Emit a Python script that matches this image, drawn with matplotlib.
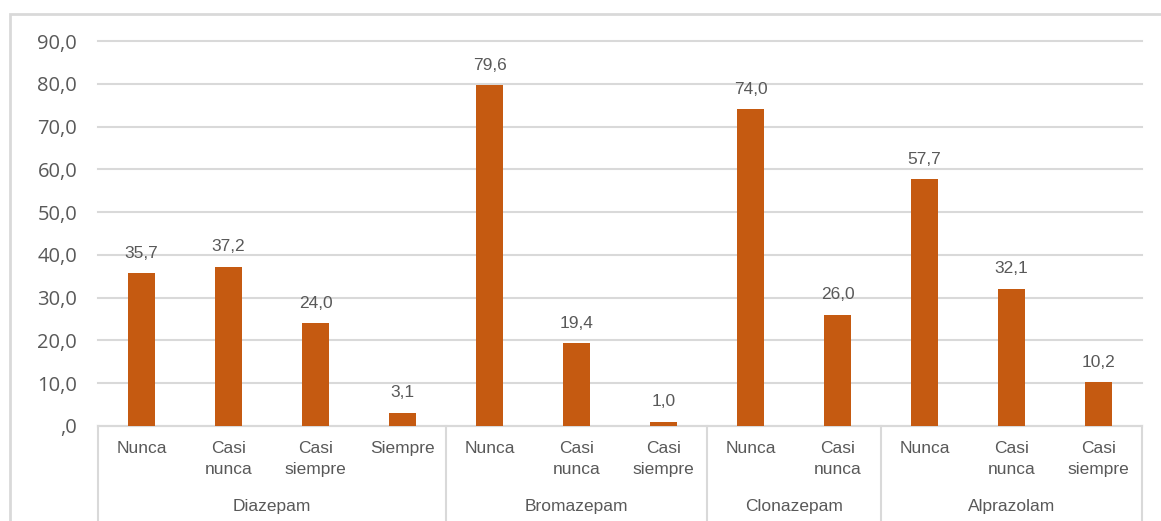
import matplotlib.pyplot as plt
from matplotlib.patches import Rectangle
from matplotlib.transforms import blended_transform_factory

# ---------------- Data ----------------
groups = ["Diazepam", "Bromazepam", "Clonazepam", "Alprazolam"]
diazepam_cats = ["Nunca", "Casi\nnunca", "Casi\nsiempre", "Siempre"]
diazepam_vals = [35.7, 37.2, 24.0, 3.1]
bromazepam_cats = ["Nunca", "Casi\nnunca", "Casi\nsiempre"]
bromazepam_vals = [79.6, 19.4, 1.0]
clonazepam_cats = ["Nunca", "Casi\nnunca"]
clonazepam_vals = [74.0, 26.0]
alprazolam_cats = ["Nunca", "Casi\nnunca", "Casi\nsiempre"]
alprazolam_vals = [57.7, 32.1, 10.2]

cats_by_group = [diazepam_cats, bromazepam_cats, clonazepam_cats, alprazolam_cats]
vals_by_group = [diazepam_vals, bromazepam_vals, clonazepam_vals, alprazolam_vals]

BAR = "#C55A11"
TXT = "#595959"
GRID = "#D9D9D9"
FONT = "Liberation Sans"


def fmt(v):
    s = f"{v:.1f}".replace(".", ",")
    return s[1:] if s.startswith("0") else s


fig = plt.figure(figsize=(11.61, 5.21), dpi=100)
ax = fig.add_axes([98 / 1161, 95 / 521, 1044 / 1161, 385 / 521])

# flatten categories
labels, values, sizes = [], [], []
for c, v in zip(cats_by_group, vals_by_group):
    labels += c
    values += v
    sizes.append(len(c))
x = list(range(len(values)))

ax.bar(x, values, width=0.3, color=BAR, zorder=3)
for xi, v in zip(x, values):
    ax.annotate(fmt(v), (xi, v), xytext=(0, 9), textcoords="offset points",
                ha="center", va="bottom", fontsize=12.5, color=TXT, family=FONT)

ax.set_xlim(-0.5, len(values) - 0.5)
ax.set_ylim(0, 90)
ax.set_yticks(range(0, 91, 10))
ax.set_yticklabels([fmt(t) for t in range(0, 91, 10)], fontsize=14.5,
                   color=TXT, family="Open Sans")
ax.tick_params(axis="y", length=0, pad=15)
ax.tick_params(axis="x", length=0, labelbottom=False)
ax.grid(axis="y", color=GRID, linewidth=1.5, zorder=0)
for gl in ax.yaxis.get_gridlines():
    gl.set_clip_on(False)
for s in ["top", "right", "left"]:
    ax.spines[s].set_visible(False)
ax.spines["bottom"].set_color(GRID)
ax.spines["bottom"].set_linewidth(1.5)

# two-level category axis
tr = blended_transform_factory(ax.transData, ax.transAxes)
for xi, lab in zip(x, labels):
    ax.text(xi, -0.038, lab, transform=tr, ha="center", va="top",
            fontsize=12.5, color=TXT, family=FONT, linespacing=1.55)

start = 0
edges = [-0.5]
for g, n in zip(groups, sizes):
    mid = start + (n - 1) / 2
    ax.text(mid, -0.208, g, transform=tr, ha="center", va="center",
            fontsize=12.5, color=TXT, family=FONT)
    start += n
    edges.append(start - 0.5)
for e in edges:
    ax.plot([e, e], [0, -0.3], transform=tr, color=GRID, linewidth=1.5,
            clip_on=False)

# chart area border
fig.add_artist(Rectangle((10 / 1161, -0.1), 1.2, 1 - 14 / 521 + 0.1,
                         transform=fig.transFigure, fill=False,
                         edgecolor=GRID, linewidth=2))

fig.savefig("out.png", dpi=100)
